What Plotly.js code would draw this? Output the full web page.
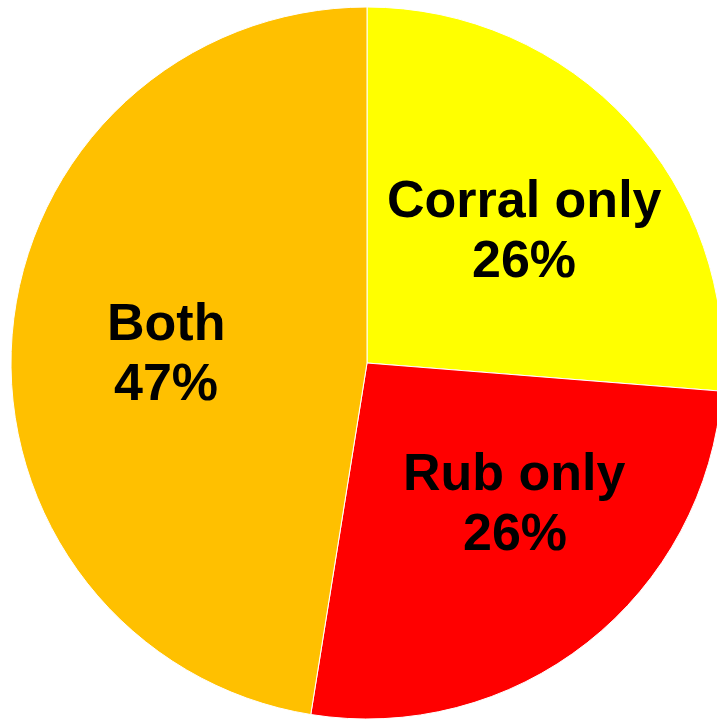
<!DOCTYPE html>
<html>
<head>
<meta charset="utf-8">
<script src="https://cdn.plot.ly/plotly-3.0.1.min.js"></script>
<style>
  html, body { margin: 0; padding: 0; background: #ffffff; overflow: hidden; }
  #chart { width: 717px; height: 719px; }
</style>
</head>
<body>
<div id="chart"></div>
<script>
// Share of sites by treatment type
const categories = ["Corral only", "Rub only", "Both"];
const shares = [26, 26, 47];
const sliceColors = ["#FFFF00", "#FF0000", "#FFC000"];

// Label placement: radius as a fraction of the pie radius, and a small
// angular nudge (degrees) from each slice's mid-angle.
const labelRadius = [0.58, 0.57, 0.565];
const labelNudge = [2.4, -8.5, -1.5];

const W = 723, H = 719;
const margin = { l: 11, r: 0, t: 7, b: 0 };
const plotW = W - margin.l - margin.r;
const plotH = H - margin.t - margin.b;
const R = Math.min(plotW, plotH) / 2;

const labelFont = { family: "Liberation Sans, Arial, sans-serif", size: 52, color: "#000000", weight: "bold" };
const lineGap = 60; // px between the two lines of a label

const total = shares.reduce((a, b) => a + b, 0);
const annotations = [];
let cum = 0;
shares.forEach((v, i) => {
  const mid = (cum + v / 2) / total * 360 + labelNudge[i];
  cum += v;
  const rad = mid * Math.PI / 180;
  const dx = labelRadius[i] * R * Math.sin(rad);
  const dy = labelRadius[i] * R * Math.cos(rad);
  const px = 0.5 + dx / plotW;
  const py = 0.5 + dy / plotH;
  const pct = Math.round(v / total * 100) + "%";
  [categories[i], pct].forEach((txt, k) => {
    annotations.push({
      xref: "paper", yref: "paper",
      x: px, y: py + (k === 0 ? 1 : -1) * (lineGap / 2) / plotH,
      xanchor: "center", yanchor: "middle",
      text: txt, showarrow: false, font: labelFont
    });
  });
});

const trace = {
  type: "pie",
  labels: categories,
  values: shares,
  sort: false,
  direction: "clockwise",
  rotation: 0,
  marker: { colors: sliceColors, line: { color: "#ffffff", width: 1 } },
  textinfo: "none",
  hoverinfo: "none"
};

const layout = {
  width: W,
  height: H,
  margin: margin,
  showlegend: false,
  paper_bgcolor: "#ffffff",
  plot_bgcolor: "#ffffff",
  annotations: annotations
};

Plotly.newPlot("chart", [trace], layout, { displayModeBar: false, staticPlot: true });
</script>
</body>
</html>
